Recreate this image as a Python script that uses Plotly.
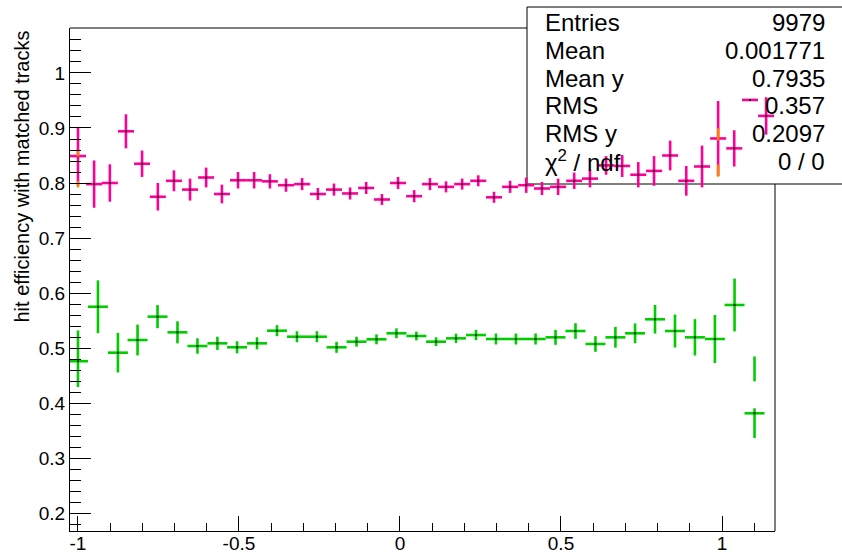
import plotly.graph_objects as go

# ---------------- data ----------------
# magenta series (bin centres, efficiency, stat. error)
mag_x = [-1.000, -0.950, -0.901, -0.851, -0.801, -0.752, -0.702, -0.652, -0.602, -0.553,
         -0.503, -0.453, -0.404, -0.354, -0.304, -0.255, -0.205, -0.155, -0.105, -0.056,
         -0.006, 0.044, 0.093, 0.143, 0.193, 0.243, 0.292, 0.342, 0.392, 0.441,
         0.491, 0.541, 0.590, 0.640, 0.690, 0.740, 0.789, 0.839, 0.889, 0.938,
         0.988, 1.038, 1.087, 1.137]
mag_y = [0.849, 0.798, 0.800, 0.894, 0.835, 0.775, 0.804, 0.788, 0.810, 0.780,
         0.805, 0.805, 0.803, 0.796, 0.798, 0.780, 0.788, 0.781, 0.791, 0.770,
         0.800, 0.776, 0.798, 0.793, 0.798, 0.804, 0.774, 0.793, 0.796, 0.790,
         0.793, 0.804, 0.808, 0.832, 0.831, 0.815, 0.822, 0.850, 0.804, 0.830,
         0.881, 0.863, 0.951, 0.922]
mag_err = [0.053, 0.043, 0.034, 0.031, 0.024, 0.025, 0.019, 0.020, 0.018, 0.017,
           0.015, 0.015, 0.013, 0.012, 0.011, 0.011, 0.011, 0.011, 0.011, 0.010,
           0.011, 0.011, 0.011, 0.010, 0.010, 0.010, 0.010, 0.011, 0.014, 0.012,
           0.015, 0.015, 0.016, 0.017, 0.020, 0.023, 0.027, 0.027, 0.027, 0.038,
           0.068, 0.033, 0.000, 0.034]
mag_halfbin = 0.0249

# green series
grn_x = [-1.000, -0.938, -0.876, -0.815, -0.753, -0.691, -0.629, -0.567, -0.506, -0.444,
         -0.382, -0.320, -0.258, -0.197, -0.135, -0.073, -0.011, 0.051, 0.112, 0.174,
         0.236, 0.298, 0.360, 0.421, 0.483, 0.545, 0.607, 0.669, 0.730, 0.792,
         0.854, 0.916, 0.978, 1.039, 1.101]
grn_y = [0.476, 0.575, 0.4915, 0.5145, 0.557, 0.5285, 0.5036, 0.5085, 0.5013, 0.5085,
         0.5315, 0.5205, 0.5205, 0.5013, 0.5115, 0.5158, 0.5267, 0.5218, 0.5115, 0.5176,
         0.5236, 0.5164, 0.5164, 0.5164, 0.5194, 0.5309, 0.5073, 0.5194, 0.5267, 0.5522,
         0.5309, 0.5194, 0.5164, 0.5782, 0.3813]
grn_err_up = [0.056, 0.048, 0.036, 0.028, 0.021, 0.020, 0.014, 0.012, 0.011, 0.011,
              0.010, 0.010, 0.010, 0.010, 0.009, 0.009, 0.009, 0.008, 0.008, 0.0085,
              0.0094, 0.010, 0.010, 0.010, 0.0136, 0.0142, 0.0142, 0.0188, 0.018, 0.026,
              0.030, 0.033, 0.0436, 0.048, 0.009]
grn_err_dn = [0.047, 0.048, 0.036, 0.028, 0.021, 0.020, 0.014, 0.012, 0.011, 0.011,
              0.010, 0.010, 0.010, 0.010, 0.009, 0.009, 0.009, 0.008, 0.008, 0.0085,
              0.0094, 0.010, 0.010, 0.010, 0.0136, 0.0142, 0.0142, 0.0188, 0.018, 0.026,
              0.030, 0.033, 0.0436, 0.048, 0.045]
grn_halfbin = 0.031

# partially hidden series (drawn with a gap around the point)
org_x = [-1.000, 0.988]
org_y = [0.826, 0.8555]
org_err = [0.034, 0.044]
org_gap = 0.022

grn2_x = [1.101]
grn2_y = [0.3813]
grn2_err_up = [0.1033]
grn2_gap = 0.058

# stats box
stat_labels = ["Entries", "Mean", "Mean y", "RMS", "RMS y", "χ<sup>2</sup> / ndf"]
stat_values = ["9979", "0.001771", "0.7935", "0.357", "0.2097", "0 / 0"]

y_title = "hit efficiency with matched tracks"
x_tickvals = [-1, -0.5, 0, 0.5, 1]
x_ticktext = ["-1", "-0.5", "0", "0.5", "1"]
y_tickvals = [0.2, 0.3, 0.4, 0.5, 0.6, 0.7, 0.8, 0.9, 1.0]
y_ticktext = ["0.2", "0.3", "0.4", "0.5", "0.6", "0.7", "0.8", "0.9", "1"]

# ---------------- styling ----------------
PINK = "#ff0096"
GREEN = "#00cc00"
ORANGE = "#ff7f00"
FONT = "Liberation Sans"
THICK = 2.6

W, H = 842, 552
L, R, T, B = 70, 67, 28, 21
pw, ph = W - L - R, H - T - B


def px2paper_x(px):
    return (px - L) / pw


def px2paper_y(py):
    return (H - B - py) / ph


fig = go.Figure()


def cross_trace(x, y, up, dn, half, color):
    return go.Scatter(
        x=x, y=y, mode="markers",
        marker=dict(symbol="square", size=2, color="#222222", line=dict(width=0)),
        error_y=dict(type="data", symmetric=False, array=up, arrayminus=dn,
                     color=color, thickness=THICK, width=0),
        error_x=dict(type="constant", value=half, color=color, thickness=THICK, width=0),
        hoverinfo="skip", showlegend=False,
    )


def gap_traces(x, y, up, dn, gap, color):
    out = []
    yu = [v + gap for v in y]
    yl = [v - gap for v in y]
    au = [max(e - gap, 0) for e in up]
    al = [max(e - gap, 0) for e in dn]
    inv = dict(size=1, color="rgba(0,0,0,0)")
    out.append(go.Scatter(x=x, y=yu, mode="markers", marker=inv,
                          error_y=dict(type="data", symmetric=False, array=au,
                                       arrayminus=[0] * len(x), color=color,
                                       thickness=THICK, width=0),
                          hoverinfo="skip", showlegend=False))
    if any(a > 0 for a in al):
        out.append(go.Scatter(x=x, y=yl, mode="markers", marker=inv,
                              error_y=dict(type="data", symmetric=False,
                                           array=[0] * len(x), arrayminus=al,
                                           color=color, thickness=THICK, width=0),
                              hoverinfo="skip", showlegend=False))
    return out


fig.add_trace(cross_trace(mag_x, mag_y, mag_err, mag_err, mag_halfbin, PINK))
fig.add_trace(cross_trace(grn_x, grn_y, grn_err_up, grn_err_dn, grn_halfbin, GREEN))
for tr in gap_traces(org_x, org_y, org_err, org_err, org_gap, ORANGE):
    fig.add_trace(tr)
for tr in gap_traces(grn2_x, grn2_y, grn2_err_up, [0] * len(grn2_x), grn2_gap, GREEN):
    fig.add_trace(tr)

# stats box geometry (pixels)
box_left, box_top, box_bottom = 527, 7, 184
shapes = [
    dict(type="line", xref="paper", yref="paper", x0=0, x1=px2paper_x(box_left),
         y0=1, y1=1, line=dict(color="black", width=1), layer="below"),
    dict(type="line", xref="paper", yref="paper", x0=1, x1=1,
         y0=0, y1=px2paper_y(box_bottom), line=dict(color="black", width=1), layer="below"),
    dict(type="rect", xref="paper", yref="paper",
         x0=px2paper_x(box_left), x1=px2paper_x(W + 5),
         y0=px2paper_y(box_bottom), y1=px2paper_y(box_top),
         fillcolor="white", line=dict(color="black", width=1), layer="below"),
]

annotations = []
row_y = [22, 50.5, 78, 105.5, 133, 161]
for lab, val, yy in zip(stat_labels, stat_values, row_y):
    annotations.append(dict(xref="paper", yref="paper", x=px2paper_x(543), y=px2paper_y(yy),
                            xanchor="left", yanchor="middle", text=lab, showarrow=False,
                            font=dict(family=FONT, size=24, color="black")))
    annotations.append(dict(xref="paper", yref="paper", x=px2paper_x(827), y=px2paper_y(yy),
                            xanchor="right", yanchor="middle", text=val, showarrow=False,
                            font=dict(family=FONT, size=24, color="black")))

annotations.append(dict(xref="paper", yref="paper", x=px2paper_x(21.5), y=px2paper_y(29),
                        xanchor="center", yanchor="top", textangle=-90, text=y_title,
                        showarrow=False, font=dict(family=FONT, size=20, color="black")))

fig.update_layout(
    width=W, height=H,
    margin=dict(l=L, r=R, t=T, b=B, pad=0, autoexpand=False),
    paper_bgcolor="white", plot_bgcolor="white",
    showlegend=False,
    shapes=shapes, annotations=annotations,
    font=dict(family=FONT, size=19, color="black"),
    xaxis=dict(range=[-1.0248, 1.1646], tickmode="array", tickvals=x_tickvals,
               ticktext=x_ticktext, ticks="inside", ticklen=15, tickwidth=1,
               tickcolor="black", showline=True, linecolor="black", linewidth=1,
               showgrid=False, zeroline=False, mirror=False, automargin=False,
               ticklabelstandoff=-5,
               tickfont=dict(family=FONT, size=19, color="black"),
               minor=dict(ticks="inside", ticklen=8, tickmode="linear", tick0=0, dtick=0.1,
                          tickcolor="black", tickwidth=1, showgrid=False)),
    yaxis=dict(range=[0.1673, 1.0818], tickmode="array", tickvals=y_tickvals,
               ticktext=y_ticktext, ticks="inside", ticklen=21, tickwidth=1,
               tickcolor="black", showline=True, linecolor="black", linewidth=1,
               showgrid=False, zeroline=False, mirror=False, automargin=False,
               tickfont=dict(family=FONT, size=19, color="black"),
               minor=dict(ticks="inside", ticklen=11, tickmode="linear", tick0=0, dtick=0.02,
                          tickcolor="black", tickwidth=1, showgrid=False)),
)

fig.write_html(
    "out.html",
    config={"displayModeBar": False, "staticPlot": True},
    post_script="document.body.style.margin='0';document.body.style.overflow='hidden';",
)
